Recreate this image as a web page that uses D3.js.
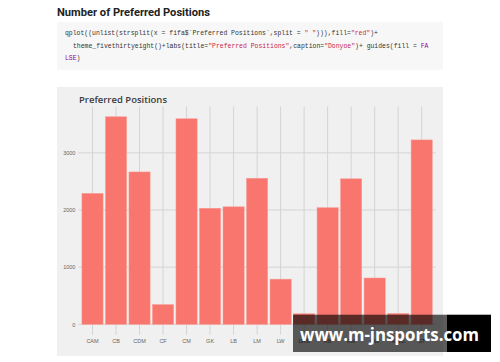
<!DOCTYPE html>
<html><head><meta charset="utf-8">
<script src="https://cdn.jsdelivr.net/npm/d3@7"></script>
<style>body{margin:0;background:#fff;}svg{display:block;}</style>
</head><body>
<svg id="c" width="500" height="362"></svg>
<script>
const categories = ["CAM","CB","CDM","CF","CM","GK","LB","LM","LW","LWB","RB","RM","RW","RWB","ST"];
const counts = [2290,3630,2665,345,3595,2030,2055,2555,790,185,2040,2545,810,190,3225];
const yTicks = [0,1000,2000,3000];
const heading = "Number of Preferred Positions";
const chartTitle = "Preferred Positions";
const codeLines = [
  [["qplot((unlist(strsplit(x = fifa$`Preferred Positions`,split = ","#333"],["\" \"","#c7254e"],["))),fill=","#333"],["\"red\"","#c7254e"],[")+","#333"]],
  [["theme_fivethirtyeight()+labs(title=","#333"],["\"Preferred Positions\"","#c7254e"],[",caption=","#333"],["\"Donyoe\"","#c7254e"],[")+ guides(fill = ","#333"],["FA","#990099"]],
  [["LSE","#990099"],[")","#333"]]
];
const watermark = "www.m-jnsports.com";

const svg = d3.select("#c");

// heading
svg.append("text").attr("x",57).attr("y",15.5).attr("font-family","Roboto, 'Open Sans', Arial, sans-serif")
  .attr("font-weight","bold").attr("font-size",10.8).attr("fill","#222")
  .attr("textLength",153).attr("lengthAdjust","spacingAndGlyphs").text(heading);

// code block
svg.append("rect").attr("x",57).attr("y",22).attr("width",386).attr("height",48).attr("fill","#f7f7f7");
const lineX = [65,73,65], lineY = [35,47.5,60];
codeLines.forEach((segs,i)=>{
  const t = svg.append("text").attr("x",lineX[i]).attr("y",lineY[i])
    .attr("font-family","'Liberation Mono','DejaVu Sans Mono',monospace").attr("font-size",6.45)
    .attr("xml:space","preserve");
  segs.forEach(s=>t.append("tspan").attr("fill",s[1]).text(s[0]));
});

// chart panel
svg.append("rect").attr("x",57).attr("y",87).attr("width",386).attr("height",269).attr("fill","#f0f0f0");

const x = d3.scaleBand().domain(categories).range([78.4,435.8]).paddingInner(0.1).paddingOuter(0.15);
const yMax = d3.max(counts), pad = yMax*0.05;
const y = d3.scaleLinear().domain([-pad, yMax+pad]).range([334.7,106.4]);

const grid = svg.append("g").attr("stroke","#d4d4d4").attr("stroke-width",1);
grid.selectAll(".v").data(categories).join("line")
  .attr("x1",d=>x(d)+x.bandwidth()/2).attr("x2",d=>x(d)+x.bandwidth()/2)
  .attr("y1",y.range()[0]).attr("y2",y.range()[1]);
grid.selectAll(".h").data(yTicks).join("line")
  .attr("x1",78.4).attr("x2",435.8).attr("y1",d=>y(d)).attr("y2",d=>y(d));

svg.append("g").selectAll("rect").data(categories).join("rect")
  .attr("x",d=>x(d)).attr("width",x.bandwidth())
  .attr("y",(d,i)=>y(counts[i])).attr("height",(d,i)=>y(0)-y(counts[i]))
  .attr("fill","#F8766D").attr("stroke","#fa9a93").attr("stroke-width",0.5);

// axes labels
const yAxis = d3.axisLeft(y).tickValues(yTicks).tickFormat(d3.format("d")).tickSize(0).tickPadding(3);
const ya = svg.append("g").attr("transform","translate(78.4,0)").call(yAxis);
ya.select(".domain").remove();
ya.selectAll("text").attr("font-family","Arial, 'Liberation Sans', sans-serif").attr("font-size",5.5).attr("fill","#666");

const xAxis = d3.axisBottom(x).tickSize(0).tickPadding(4);
const xa = svg.append("g").attr("transform","translate(0,334.7)").call(xAxis);
xa.select(".domain").remove();
xa.selectAll("text").attr("font-family","Arial, 'Liberation Sans', sans-serif").attr("font-size",5.5).attr("fill","#666");

// chart title
svg.append("text").attr("x",79).attr("y",102.5).attr("font-family","'Open Sans', Arial, sans-serif")
  .attr("font-weight","600").attr("font-size",9.6).attr("fill","#3c3c3c")
  .attr("textLength",88).attr("lengthAdjust","spacingAndGlyphs").text(chartTitle);

// watermark
svg.append("rect").attr("x",293).attr("y",314.7).attr("width",154).attr("height",37.3).attr("fill","rgba(0,0,0,0.64)");
svg.append("rect").attr("x",447).attr("y",314.7).attr("width",44).attr("height",37.3).attr("fill","#000");
svg.append("text").attr("x",300).attr("y",341).attr("font-family","'Open Sans', Arial, sans-serif")
  .attr("font-weight","bold").attr("font-size",17).attr("fill","#fff")
  .attr("textLength",179).attr("lengthAdjust","spacingAndGlyphs").text(watermark);
</script>
</body></html>
